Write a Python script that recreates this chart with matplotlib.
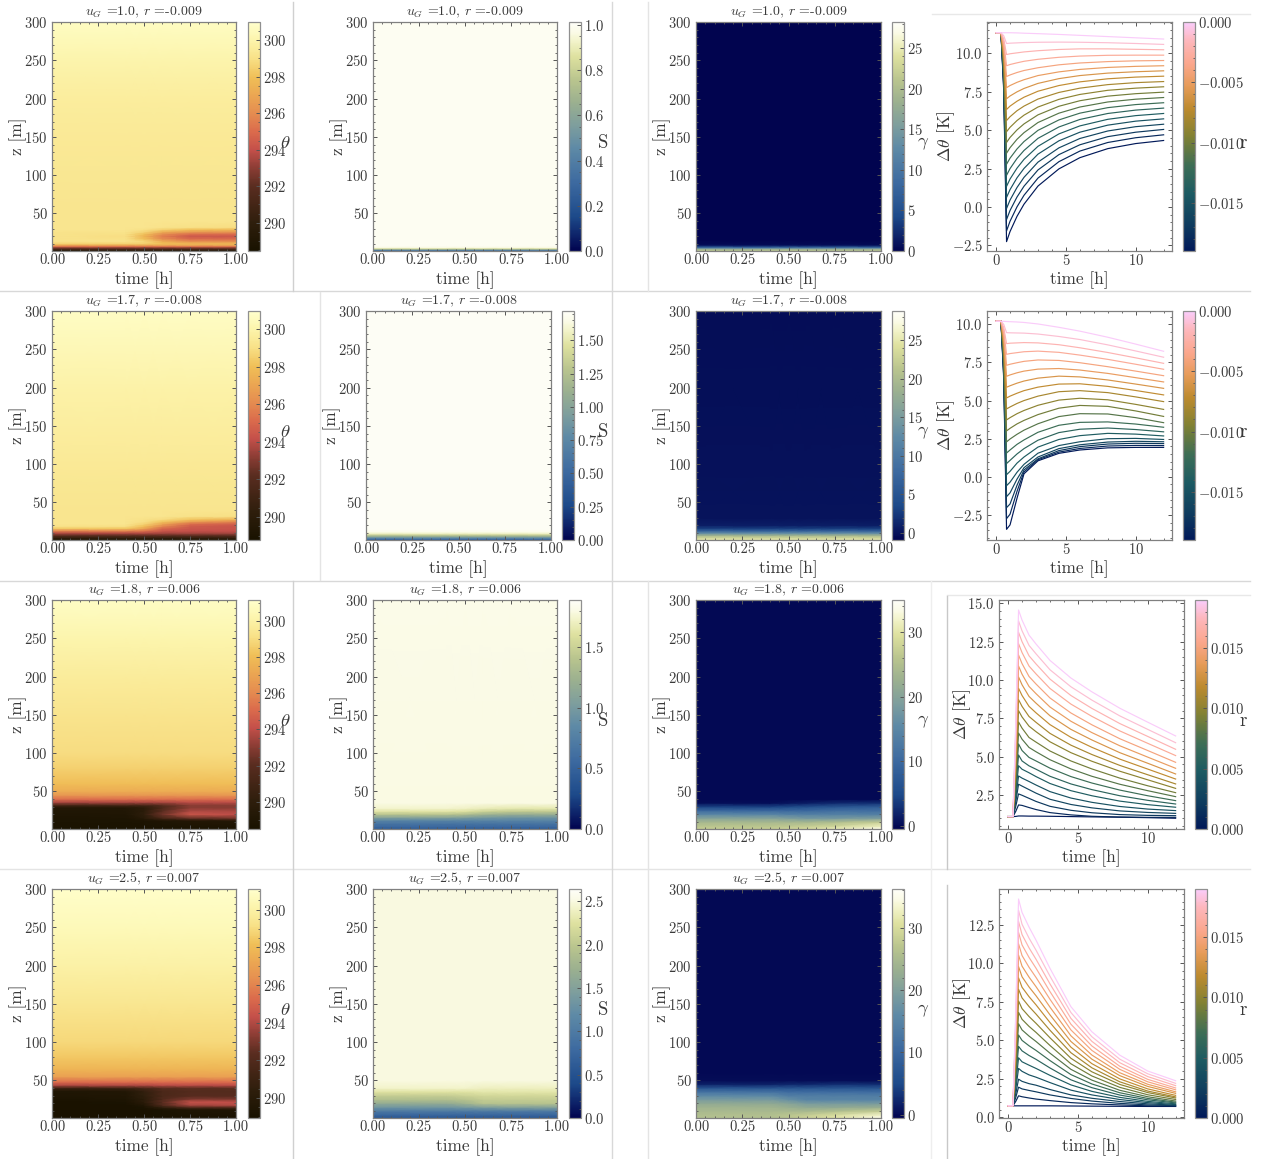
import numpy as np
import matplotlib
matplotlib.use('Agg')
import matplotlib.pyplot as plt
from matplotlib.colors import LinearSegmentedColormap, Normalize
from matplotlib.cm import ScalarMappable
from matplotlib.lines import Line2D
from matplotlib.ticker import MultipleLocator

plt.rcParams.update({
    'font.family': ['cmr10', 'DejaVu Serif'], 'mathtext.fontset': 'cm',
    'axes.formatter.use_mathtext': True, 'axes.unicode_minus': True,
    'text.color': '#3a3a3a', 'axes.labelcolor': '#3a3a3a',
    'xtick.color': '#555555', 'ytick.color': '#555555',
    'xtick.labelcolor': '#3a3a3a', 'ytick.labelcolor': '#3a3a3a',
    'axes.edgecolor': '#808080', 'axes.linewidth': 0.9,
})

TITLES = ['$u_G$ =1.0, $r$ =-0.009', '$u_G$ =1.7, $r$ =-0.008',
          '$u_G$ =1.8, $r$ =0.006', '$u_G$ =2.5, $r$ =0.007']
T = [0, .4, .5, .6, .75, 1.0]

# ---- potential temperature: z levels and rows per time node
TH1_Z = [1, 3, 5, 7, 9, 11, 14, 17, 20, 23, 26, 29, 32, 40, 60, 100, 150, 200, 250, 300]
TH1 = [[288.6], [290.5], [292.5], [295.0], [297.3],
       [298.6, 298.6, 298.5, 298.0, 297.6, 297.6],
       [299.1, 299.1, 298.7, 297.2, 296.0, 296.0],
       [299.1, 299.0, 298.0, 296.0, 295.0, 295.0],
       [299.1, 298.9, 297.6, 295.6, 294.3, 294.3],
       [299.1, 299.0, 298.0, 296.0, 295.0, 294.9],
       [299.1, 299.1, 298.6, 297.2, 296.5, 296.3],
       [299.2, 299.2, 299.0, 298.5, 298.0, 297.7],
       [299.2, 299.2, 299.2, 299.1, 299.0, 298.9],
       [299.2], [299.2], [299.3], [299.4], [299.6], [300.0], [300.7]]
TH2_Z = [1, 4, 7, 10, 13, 16, 19, 22, 25, 28, 32, 40, 100, 200, 300]
TH2 = [[289.0], [290.5], [292.3], [293.8, 293.8, 293.8, 293.6, 293.6, 293.6],
       [295.8, 295.8, 295.3, 294.4, 294.2, 294.2],
       [298.3, 298.2, 297.0, 295.0, 294.4, 294.3],
       [299.1, 299.0, 298.0, 296.0, 294.6, 294.3],
       [299.2, 299.2, 298.6, 297.0, 295.2, 294.7],
       [299.2, 299.2, 299.0, 298.2, 296.8, 295.9],
       [299.2, 299.2, 299.1, 298.9, 298.2, 297.6],
       [299.2, 299.2, 299.2, 299.2, 299.1, 299.0],
       [299.2], [299.4], [299.9], [300.7]]
TH3_Z = [1, 12, 15, 20, 25, 29, 32, 36, 40, 45, 50, 60, 80, 100, 150, 200, 250, 300]
TH3 = [[288.6], [288.7, 288.7, 288.8, 289.0, 289.2, 289.3],
       [288.8, 288.8, 289.5, 291.0, 292.2, 292.5],
       [288.9, 289.0, 290.0, 292.5, 294.3, 294.0],
       [289.0, 289.1, 289.8, 292.0, 293.6, 293.6],
       [289.3, 289.3, 289.8, 291.5, 293.0, 293.0],
       [291.0, 291.0, 291.0, 291.8, 293.0, 293.0],
       [293.6, 293.6, 293.6, 293.6, 293.9, 293.9],
       [295.2], [296.5], [297.3], [298.0], [298.6], [299.0], [299.3], [299.7], [300.2], [300.9]]
TH4_Z = [1, 12, 15, 18, 22, 26, 30, 36, 40, 44, 48, 55, 65, 80, 100, 150, 200, 250, 300]
TH4 = [[289.0], [289.0, 289.0, 289.0, 289.2, 289.4, 289.5],
       [289.0, 289.0, 289.2, 290.5, 292.0, 292.0],
       [289.0, 289.0, 289.6, 292.0, 293.8, 294.0],
       [289.0, 289.2, 290.2, 292.3, 294.4, 294.3],
       [289.2, 289.4, 290.2, 291.9, 293.0, 293.0],
       [289.3, 289.5, 290.5, 291.7, 292.2, 292.2],
       [289.4, 289.6, 290.6, 291.7, 292.1, 292.1],
       [291.0, 291.0, 291.5, 292.2, 292.4, 292.4],
       [294.0, 294.0, 294.0, 294.2, 294.2, 294.2],
       [295.3], [297.0], [297.8], [298.4], [298.9], [299.4], [300.0], [300.5], [301.0]]

# ---- S
S1_Z = [1, 2, 3, 4, 5, 6, 8, 300]
S1 = [[.15], [.35], [.55], [.75], [.90], [.97], [.995], [.995]]
S2_Z = [1, 2.5, 4, 6, 8, 10, 12, 15, 300]
S2 = [[.35], [.55], [.80], [1.10], [1.38], [1.58], [1.66], [1.70], [1.70]]
S3_Z = [1, 4, 8, 12, 16, 20, 24, 28, 35, 300]
S3 = [[.45], [.55], [.65], [.80], [1.1, 1.1, 1.05, 1.0, .95, .95],
      [1.4, 1.4, 1.35, 1.25, 1.2, 1.2], [1.62, 1.62, 1.6, 1.5, 1.45, 1.45],
      [1.74, 1.74, 1.72, 1.68, 1.65, 1.65], [1.80], [1.81]]
S4_Z = [1, 5, 10, 15, 20, 25, 30, 35, 40, 50, 300]
S4 = [[.55], [.75], [1.0], [1.35, 1.35, 1.4, 1.45, 1.5, 1.5],
      [1.65, 1.65, 1.75, 1.95, 1.95, 1.95], [1.9, 1.9, 1.95, 2.05, 2.05, 2.05],
      [2.05, 2.05, 2.1, 2.15, 2.15, 2.15], [2.25, 2.25, 2.25, 2.28, 2.28, 2.28],
      [2.42, 2.42, 2.42, 2.38, 2.38, 2.38], [2.5], [2.5]]

# ---- gamma
G1_Z = [1, 3, 4.5, 6, 8, 10, 15, 300]
G1 = [[21], [20], [15], [8], [2], [.4], [.1], [.05]]
G2_Z = [1, 4, 7, 10, 13, 16, 20, 30, 100, 300]
G2 = [[25], [23], [19], [13], [7], [3], [.8], [.1], [0], [-.3]]
G3_Z = [1, 5, 10, 15, 20, 25, 30, 35, 40, 50, 300]
G3 = [[27, 27, 28, 29, 31, 34], [26, 26, 26.5, 27, 28, 31], [24, 24, 24, 24, 25, 27],
      [20, 20, 19, 18, 18, 19], [15, 15, 14, 14, 14, 14], [10, 10, 10, 10, 11, 11],
      [4.5, 4.5, 5, 6, 7, 8], [.5, .5, 1, 1.5, 2.5, 3], [.1], [0], [0]]
G4_Z = [1, 5, 10, 15, 20, 25, 30, 35, 40, 45, 50, 60, 300]
G4 = [[26, 26, 27, 29, 31, 35], [26, 26, 27, 28, 30, 33], [25, 25, 25, 25, 26, 28],
      [24, 24, 23, 22, 22, 23], [22, 22, 21, 19, 19, 19], [19, 19, 17, 15, 15, 15],
      [16, 16, 14, 14, 14, 14], [12, 12, 11, 11, 11, 11], [7, 7, 7, 7, 7, 7],
      [2, 2, 2.5, 2.5, 3, 3], [.3], [0], [0]]

# ---- temperature-difference curves: time nodes, r values, value at the start,
# value at t=.55 during the steep front, then values from t=.75 on
LINE_T = [0, .35, .55, .75, 1, 1.5, 2, 3, 4.5, 6, 8, 10, 12]
R_NEG = [-.019, -.018, -.017, -.016, -.015, -.014, -.013, -.012, -.011, -.010,
         -.009, -.008, -.007, -.006, -.005, -.004, -.003, -.002, -.001, 0]
R_POS = [0, .001, .002, .003, .004, .005, .006, .007, .008, .009,
         .010, .011, .012, .013, .014, .015, .016, .017, .018, .019]
START = [11.35, 10.2, 1.09, .74]
F1 = [7.54, 7.74, 7.94, 8.14, 8.35, 8.55, 8.75, 8.95, 9.15, 9.35,
      9.54, 9.75, 9.95, 10.15, 10.35, 10.55, 10.75, 10.95, 11.15, 11.35]
F2 = [6.38, 6.58, 6.78, 6.98, 7.18, 7.38, 7.59, 7.78, 7.99, 8.19,
      8.39, 8.59, 8.79, 8.99, 9.19, 9.39, 9.59, 9.79, 9.99, 10.19]
F3 = [1.10, 1.43, 1.76, 2.04, 2.28, 2.58, 2.90, 3.22, 3.54, 3.87,
      4.20, 4.52, 4.86, 5.19, 5.51, 5.83, 6.17, 6.50, 6.83, 7.16]
F4 = [.74, 1.03, 1.28, 1.52, 1.83, 2.14, 2.48, 2.81, 3.14, 3.47,
      3.78, 4.15, 4.48, 4.81, 5.14, 5.47, 5.81, 6.13, 6.45, 6.78]
D1 = [[-2.26, -1.60, -.61, .18, 1.36, 2.48, 3.21, 3.80, 4.13, 4.33],
      [-1.56, -.93, .01, .76, 1.88, 2.95, 3.64, 4.20, 4.51, 4.70],
      [-.82, -.23, .65, 1.35, 2.41, 3.41, 4.05, 4.58, 4.87, 5.05],
      [-.10, .45, 1.27, 1.93, 2.92, 3.85, 4.46, 4.95, 5.23, 5.39],
      [.62, 1.13, 1.90, 2.51, 3.44, 4.31, 4.87, 5.33, 5.59, 5.74],
      [1.34, 1.82, 2.53, 3.10, 3.95, 4.76, 5.28, 5.71, 5.95, 6.09],
      [2.06, 2.50, 3.16, 3.68, 4.47, 5.21, 5.70, 6.09, 6.31, 6.44],
      [2.78, 3.18, 3.78, 4.26, 4.99, 5.67, 6.11, 6.47, 6.67, 6.79],
      [3.50, 3.86, 4.41, 4.84, 5.50, 6.11, 6.51, 6.84, 7.02, 7.13],
      [4.20, 4.53, 5.02, 5.41, 6.00, 6.56, 6.92, 7.22, 7.38, 7.48],
      [4.90, 5.19, 5.63, 5.98, 6.51, 7.01, 7.33, 7.60, 7.74, 7.83],
      [5.63, 5.88, 6.27, 6.57, 7.03, 7.46, 7.74, 7.97, 8.10, 8.17],
      [6.35, 6.57, 6.89, 7.15, 7.54, 7.91, 8.15, 8.35, 8.46, 8.52],
      [7.05, 7.23, 7.50, 7.72, 8.05, 8.36, 8.56, 8.72, 8.81, 8.87],
      [7.77, 7.91, 8.12, 8.29, 8.56, 8.80, 8.96, 9.09, 9.16, 9.20],
      [8.50, 8.60, 8.76, 8.89, 9.07, 9.26, 9.38, 9.47, 9.52, 9.54],
      [9.20, 9.28, 9.39, 9.49, 9.62, 9.75, 9.83, 9.88, 9.89, 9.89],
      [9.93, 9.98, 10.04, 10.10, 10.18, 10.26, 10.30, 10.30, 10.27, 10.24],
      [10.65, 10.67, 10.69, 10.71, 10.73, 10.74, 10.73, 10.70, 10.65, 10.59],
      [11.35, 11.35, 11.34, 11.32, 11.29, 11.24, 11.18, 11.10, 11.02, 10.94]]
D2 = [[-3.44, -3.15, -1.40, .20, 1.05, 1.54, 1.76, 1.90, 1.93, 1.93],
      [-2.74, -2.45, -.95, .32, 1.12, 1.62, 1.86, 2.02, 2.06, 2.05],
      [-2.02, -1.78, -.55, .45, 1.18, 1.72, 1.98, 2.15, 2.20, 2.18],
      [-1.30, -1.05, -.15, .60, 1.30, 1.85, 2.10, 2.28, 2.33, 2.30],
      [-.58, -.35, .30, .82, 1.55, 2.05, 2.30, 2.50, 2.52, 2.45],
      [.14, .36, .90, 1.30, 1.95, 2.45, 2.70, 2.85, 2.80, 2.68],
      [.87, 1.08, 1.50, 1.85, 2.40, 2.90, 3.12, 3.20, 3.10, 2.95],
      [1.56, 1.76, 2.13, 2.42, 2.92, 3.38, 3.57, 3.60, 3.46, 3.25],
      [2.29, 2.48, 2.79, 3.06, 3.48, 3.95, 4.14, 4.12, 3.88, 3.55],
      [3.01, 3.18, 3.47, 3.70, 4.08, 4.50, 4.68, 4.62, 4.32, 3.96],
      [3.73, 3.88, 4.14, 4.35, 4.69, 5.03, 5.15, 5.05, 4.75, 4.42],
      [4.45, 4.58, 4.81, 5.00, 5.29, 5.58, 5.65, 5.52, 5.24, 4.93],
      [5.17, 5.29, 5.48, 5.65, 5.88, 6.08, 6.10, 5.93, 5.66, 5.37],
      [5.87, 5.97, 6.14, 6.28, 6.47, 6.60, 6.55, 6.35, 6.08, 5.80],
      [6.59, 6.68, 6.82, 6.93, 7.06, 7.10, 7.00, 6.78, 6.50, 6.22],
      [7.31, 7.38, 7.48, 7.57, 7.66, 7.63, 7.48, 7.22, 6.93, 6.63],
      [8.03, 8.08, 8.14, 8.20, 8.24, 8.16, 7.98, 7.70, 7.38, 7.05],
      [8.73, 8.76, 8.78, 8.80, 8.78, 8.66, 8.46, 8.15, 7.80, 7.44],
      [9.45, 9.44, 9.43, 9.42, 9.36, 9.20, 9.00, 8.65, 8.25, 7.84],
      [10.18, 10.17, 10.15, 10.12, 10.02, 9.80, 9.55, 9.15, 8.70, 8.23]]
D3 = [[1.13, 1.13, 1.12, 1.12, 1.11, 1.09, 1.07, 1.05, 1.02, .98],
      [1.85, 1.82, 1.68, 1.55, 1.35, 1.20, 1.11, 1.06, 1.04, 1.04],
      [2.57, 2.48, 2.28, 2.08, 1.76, 1.50, 1.34, 1.22, 1.17, 1.15],
      [3.20, 3.08, 2.85, 2.62, 2.22, 1.88, 1.66, 1.46, 1.36, 1.30],
      [3.74, 3.60, 3.38, 3.15, 2.72, 2.30, 2.02, 1.75, 1.58, 1.48],
      [4.41, 4.18, 3.95, 3.70, 3.25, 2.78, 2.45, 2.10, 1.87, 1.70],
      [5.11, 4.72, 4.40, 4.18, 3.72, 3.22, 2.85, 2.45, 2.15, 1.91],
      [5.83, 5.40, 4.95, 4.72, 4.25, 3.70, 3.28, 2.82, 2.45, 2.13],
      [6.54, 6.14, 5.60, 5.32, 4.80, 4.20, 3.72, 3.20, 2.78, 2.39],
      [7.26, 6.86, 6.25, 5.95, 5.37, 4.72, 4.20, 3.60, 3.10, 2.65],
      [8.00, 7.59, 6.99, 6.63, 5.97, 5.26, 4.70, 4.05, 3.49, 2.93],
      [8.72, 8.28, 7.62, 7.24, 6.52, 5.75, 5.14, 4.43, 3.82, 3.22],
      [9.46, 8.99, 8.28, 7.86, 7.09, 6.26, 5.61, 4.84, 4.19, 3.54],
      [10.20, 9.69, 8.93, 8.49, 7.67, 6.78, 6.09, 5.26, 4.57, 3.87],
      [10.91, 10.38, 9.58, 9.11, 8.24, 7.31, 6.57, 5.71, 4.97, 4.24],
      [11.63, 11.07, 10.23, 9.74, 8.83, 7.85, 7.08, 6.17, 5.40, 4.63],
      [12.37, 11.79, 10.91, 10.40, 9.45, 8.43, 7.63, 6.68, 5.87, 5.07],
      [13.11, 12.50, 11.58, 11.05, 10.06, 8.99, 8.15, 7.16, 6.32, 5.48],
      [13.85, 13.21, 12.26, 11.71, 10.67, 9.56, 8.69, 7.66, 6.78, 5.91],
      [14.57, 13.91, 12.93, 12.35, 11.28, 10.13, 9.23, 8.16, 7.25, 6.35]]
D4 = [[.74, .74, .74, .74, .74, .73, .72, .71, .70, .70],
      [1.39, 1.33, 1.25, 1.18, 1.08, .95, .87, .80, .74, .72],
      [1.95, 1.84, 1.74, 1.65, 1.45, 1.22, 1.05, .90, .80, .75],
      [2.47, 2.33, 2.18, 2.08, 1.80, 1.45, 1.23, 1.02, .87, .78],
      [3.17, 2.98, 2.75, 2.60, 2.25, 1.76, 1.45, 1.15, .95, .82],
      [3.86, 3.60, 3.38, 3.17, 2.72, 2.10, 1.68, 1.29, 1.03, .87],
      [4.60, 4.31, 4.01, 3.76, 3.20, 2.43, 1.92, 1.44, 1.13, .93],
      [5.34, 4.99, 4.64, 4.34, 3.68, 2.77, 2.16, 1.59, 1.22, .98],
      [6.07, 5.67, 5.27, 4.92, 4.16, 3.11, 2.41, 1.75, 1.33, 1.05],
      [6.81, 6.36, 5.90, 5.51, 4.66, 3.47, 2.68, 1.94, 1.46, 1.15],
      [7.55, 7.05, 6.54, 6.10, 5.16, 3.83, 2.95, 2.13, 1.60, 1.25],
      [8.31, 7.75, 7.19, 6.70, 5.65, 4.19, 3.21, 2.30, 1.70, 1.32],
      [9.05, 8.44, 7.83, 7.30, 6.15, 4.55, 3.48, 2.49, 1.84, 1.42],
      [9.78, 9.12, 8.46, 7.89, 6.65, 4.92, 3.77, 2.70, 2.00, 1.55],
      [10.52, 9.81, 9.10, 8.48, 7.15, 5.29, 4.04, 2.89, 2.14, 1.65],
      [11.26, 10.50, 9.74, 9.08, 7.66, 5.67, 4.34, 3.11, 2.30, 1.78],
      [12.00, 11.19, 10.38, 9.68, 8.16, 6.04, 4.63, 3.31, 2.46, 1.90],
      [12.71, 11.86, 11.00, 10.26, 8.66, 6.42, 4.93, 3.54, 2.64, 2.05],
      [13.43, 12.53, 11.63, 10.85, 9.16, 6.80, 5.23, 3.77, 2.82, 2.20],
      [14.17, 13.30, 12.35, 11.50, 9.67, 7.18, 5.55, 4.03, 3.00, 2.37]]

# ---- colormaps
lajolla = LinearSegmentedColormap.from_list('th', [
    (0, '#191200'), (.12, '#2E1E0C'), (.283, '#5A2D20'), (.363, '#8C3D35'),
    (.442, '#C4504A'), (.522, '#DB6B4C'), (.60, '#E58C50'), (.68, '#EBA652'),
    (.76, '#F0BF57'), (.84, '#F8E086'), (.92, '#FCF4AB'), (1, '#FFFFCC')])
davos = LinearSegmentedColormap.from_list('dv', [
    (0, '#01044F'), (.15, '#1D4A8A'), (.3, '#3D6AA0'), (.45, '#5E8AA6'),
    (.55, '#7E9E9D'), (.65, '#9BB08F'), (.75, '#BAC58E'), (.85, '#DEE19F'),
    (.92, '#F3F4CC'), (.96, '#FBFBE8'), (1, '#FEFEF8')])
batlow = LinearSegmentedColormap.from_list('bt', [
    (0, '#011959'), (.12, '#0F3D5E'), (.25, '#1C5A62'), (.37, '#3C6D56'),
    (.5, '#808133'), (.62, '#BC8A2E'), (.72, '#E69B58'), (.82, '#FBA78D'),
    (.92, '#FDB7BC'), (1, '#FACCFA')])

W, H = 1268, 1159
TICK_FS, LABEL_FS, TITLE_FS = 10.5, 12.5, 10
fig = plt.figure(figsize=(W / 100, H / 100), dpi=100)


def pxaxes(x0, y0, x1, y1):
    return fig.add_axes([x0 / W, 1 - y1 / H, (x1 - x0) / W, (y1 - y0) / H])


def grid(rows):
    return np.array([r * 6 if len(r) == 1 else r for r in rows], float)


def style(ax):
    ax.tick_params(which='both', direction='in', top=True, right=True, labelsize=TICK_FS)
    ax.tick_params(axis='x', which='both', pad=1.5)
    ax.tick_params(axis='y', which='both', pad=3)
    ax.tick_params(which='major', length=3, width=.7)
    ax.tick_params(which='minor', length=1.6, width=.6)
    ax.minorticks_on()


def cbar(cax, mappable, ticks, fmt, label, lx):
    cb = fig.colorbar(mappable, cax=cax)
    cb.set_ticks(ticks)
    cb.set_ticklabels([f'${v:{fmt}}$' for v in ticks])
    cb.outline.set_edgecolor('#909090')
    cb.outline.set_linewidth(.9)
    cax.tick_params(which='both', direction='in', right=True, labelsize=TICK_FS, pad=2)
    cax.tick_params(which='major', length=3, width=.7)
    cax.tick_params(which='minor', length=1.6, width=.6)
    cb.ax.minorticks_on()
    cax.set_ylabel(label, rotation=0, fontsize=13.5, va='center', ha='center')
    cax.yaxis.set_label_coords(lx, .47)


def xlab(ax, h=229):
    ax.set_xlabel('time [h]', fontsize=LABEL_FS, va='center')
    ax.xaxis.set_label_coords(.5, -29 / h)


def heat(x0, y0, x1, cx0, z, rows, cmap, vmin, vmax, title, ticks, fmt, label, lx, zx=-34):
    y1 = y0 + 229
    ax = pxaxes(x0, y0, x1, y1)
    norm = Normalize(vmin, vmax)
    ax.pcolormesh(T, z, grid(rows), shading='gouraud', cmap=cmap, norm=norm, rasterized=True)
    ax.set_xlim(0, 1)
    ax.set_ylim(1, 300)
    ax.set_xticks([0, .25, .5, .75, 1])
    ax.set_xticklabels(['0.00', '0.25', '0.50', '0.75', '1.00'])
    ax.set_yticks([50, 100, 150, 200, 250, 300])
    style(ax)
    ax.xaxis.set_minor_locator(MultipleLocator(.05))
    ax.yaxis.set_minor_locator(MultipleLocator(10))
    ax.set_title(title, fontsize=TITLE_FS, pad=5, color='#3a3a3a')
    xlab(ax)
    ax.set_ylabel('z [m]', fontsize=LABEL_FS, va='center')
    ax.yaxis.set_label_coords(zx / (x1 - x0), .5)
    cax = pxaxes(cx0, y0, cx0 + 12, y1)
    cbar(cax, ScalarMappable(norm, cmap), ticks, fmt, label, lx)


def curves(x0, y0, cx0, start, front, rows, rvals, vmin, vmax, ylim, yticks, rticks, lx, dx):
    y1 = y0 + 229
    ax = pxaxes(x0, y0, x0 + 185, y1)
    norm = Normalize(vmin, vmax)
    for r, f, vals in zip(rvals, front, rows):
        ax.plot(LINE_T, [start, start, f] + vals, color=batlow(norm(r)), lw=.85)
    ax.set_xlim(-.65, 12.6)
    ax.set_ylim(*ylim)
    ax.set_xticks([0, 5, 10])
    ax.set_yticks(yticks)
    ax.set_yticklabels([f'${v:.1f}$' for v in yticks])
    style(ax)
    xlab(ax)
    ax.set_ylabel(r'$\Delta\theta$ [K]', fontsize=LABEL_FS, va='center')
    ax.yaxis.set_label_coords(dx / 185, .5)
    cax = pxaxes(cx0, y0, cx0 + 12, y1)
    cbar(cax, ScalarMappable(norm, batlow), rticks, '.3f', 'r', lx)


Y0 = [22, 311, 600, 889]
THETA = [(TH1_Z, TH1, 288.45, 301.0), (TH2_Z, TH2, 288.78, 300.96),
         (TH3_Z, TH3, 288.5, 301.15), (TH4_Z, TH4, 288.94, 301.1)]
SS = [(S1_Z, S1, 0, 1.013, [0, .2, .4, .6, .8, 1.0], '.1f'),
      (S2_Z, S2, 0, 1.72, [0, .25, .5, .75, 1, 1.25, 1.5], '.2f'),
      (S3_Z, S3, 0, 1.89, [0, .5, 1, 1.5], '.1f'),
      (S4_Z, S4, 0, 2.64, [0, .5, 1, 1.5, 2, 2.5], '.1f')]
GG = [(G1_Z, G1, 0, 28.2, [0, 5, 10, 15, 20, 25]),
      (G2_Z, G2, -.9, 28.76, [0, 5, 10, 15, 20, 25]),
      (G3_Z, G3, -.45, 35, [0, 10, 20, 30]),
      (G4_Z, G4, -.5, 36.2, [0, 10, 20, 30])]

for i, y0 in enumerate(Y0):
    z, d, lo, hi = THETA[i]
    heat(52, y0, 236, 248, z, d, lajolla, lo, hi, TITLES[i],
         [290, 292, 294, 296, 298, 300], '.0f', r'$\theta$', 3.1)
    z, d, lo, hi, tk, fm = SS[i]
    if i == 1:
        heat(366, y0, 551, 562, z, d, davos, lo, hi, TITLES[i], tk, fm, 'S', 3.4)
    else:
        heat(373, y0, 557, 569, z, d, davos, lo, hi, TITLES[i], tk, fm, 'S', 2.85)
    z, d, lo, hi, tk = GG[i]
    heat(696, y0, 881, 892, z, d, davos, lo, hi, TITLES[i], tk, '.0f', r'$\gamma$', 2.6)

curves(987, Y0[0], 1183, START[0], F1, D1, R_NEG, -.019, 0, (-2.87, 12.05),
       [-2.5, 0, 2.5, 5, 7.5, 10], [-.015, -.01, -.005, 0], 5.0, -41)
curves(987, Y0[1], 1183, START[1], F2, D2, R_NEG, -.019, 0, (-4.14, 10.87),
       [-2.5, 0, 2.5, 5, 7.5, 10], [-.015, -.01, -.005, 0], 5.0, -41)
curves(999, Y0[2], 1195, START[2], F3, D3, R_POS, 0, .019, (.28, 15.22),
       [2.5, 5, 7.5, 10, 12.5, 15], [0, .005, .01, .015], 4.0, -37)
curves(999, Y0[3], 1195, START[3], F4, D4, R_POS, 0, .019, (-.05, 14.82),
       [0, 2.5, 5, 7.5, 10, 12.5], [0, .005, .01, .015], 4.0, -37)

# ---- pale frame lines left over from the pasted panels (pixel coordinates)
FRAME = [(0, 291, 1250, 291, '#d8d8d8'), (0, 581, 1250, 581, '#d8d8d8'),
         (0, 869, 1250, 869, '#e4e4e4'), (932, 14, 1250, 14, '#e8e8e8'),
         (947, 595, 1250, 595, '#e8e8e8'), (293, 2, 293, 291, '#d0d0d0'),
         (293, 581, 293, 1159, '#d0d0d0'), (612, 2, 612, 1159, '#d8d8d8'),
         (320, 292, 320, 580, '#e4e4e4'), (648, 2, 648, 291, '#e4e4e4'),
         (648, 581, 648, 1159, '#e4e4e4'), (931, 581, 931, 1159, '#eeeeee'),
         (947, 596, 947, 869, '#c8c8c8'), (947, 885, 947, 1159, '#c8c8c8')]
for xa, ya, xb, yb, col in FRAME:
    fig.add_artist(Line2D([xa / W, xb / W], [1 - ya / H, 1 - yb / H], color=col, lw=1))

fig.savefig('out.png', dpi=100)
